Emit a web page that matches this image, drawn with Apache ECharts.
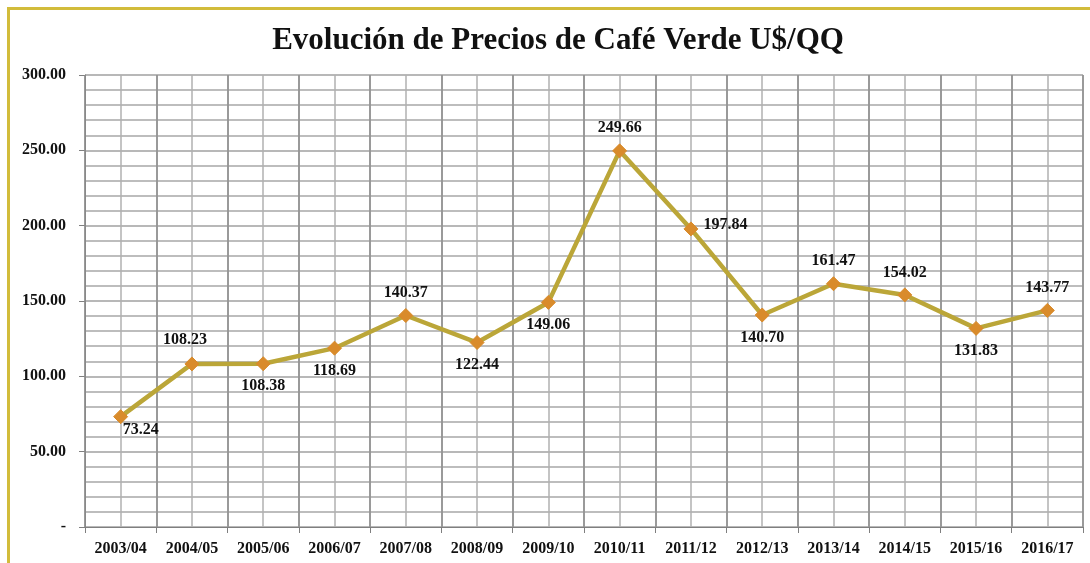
<!DOCTYPE html>
<html>
<head>
<meta charset="utf-8">
<script src="https://cdn.jsdelivr.net/npm/echarts@6/dist/echarts.min.js"></script>
<style>html,body{margin:0;padding:0;background:#fff;}#c{width:1090px;height:563px;}</style>
</head>
<body>
<div id="c"></div>
<script>
var categories = ['2003/04','2004/05','2005/06','2006/07','2007/08','2008/09','2009/10','2010/11','2011/12','2012/13','2013/14','2014/15','2015/16','2016/17'];
var prices = [73.24,108.23,108.38,118.69,140.37,122.44,149.06,249.66,197.84,140.70,161.47,154.02,131.83,143.77];
var yTicks = [0,50,100,150,200,250,300];
var labelPlacement = ['br','tl','b','b','t','b','b','t','r','b','t','t','b','t'];

var FONT = '"Liberation Serif", "Times New Roman", serif';
function labelFor(p){
  var base = {show:true, color:'#111', fontFamily:FONT, fontWeight:'bold', fontSize:16,
    formatter:function(o){ return Number(o.value).toFixed(2); }};
  if(p==='br'){ base.position='bottom'; base.offset=[20,-7]; }
  else if(p==='tl'){ base.position='top'; base.offset=[-7,-4]; }
  else if(p==='b'){ base.position='bottom'; base.offset=[0,2]; }
  else if(p==='t'){ base.position='top'; base.offset=[0,-2]; }
  else if(p==='r'){ base.position='right'; base.offset=[0,-4]; }
  return base;
}
var seriesData = prices.map(function(v,i){
  return {value:v, label:labelFor(labelPlacement[i])};
});

var chart = echarts.init(document.getElementById('c'));
chart.setOption({
  animation:false,
  backgroundColor:'#fff',
  title:{
    text:'Evolución de Precios de Café Verde U$/QQ',
    left:553, top:20, textAlign:'center',
    textStyle:{fontFamily:FONT, fontWeight:'bold', fontSize:31, color:'#111'}
  },
  graphic:[{
    type:'rect', z:100, silent:true,
    shape:{x:8.5,y:8.5,width:1200,height:700},
    style:{fill:'none', stroke:'#d2bc3b', lineWidth:3}
  }],
  grid:{left:85, top:75, right:7, bottom:36},
  xAxis:[{
    type:'category', data:categories, boundaryGap:true,
    axisLine:{show:true, lineStyle:{color:'#7f7f7f', width:1}},
    axisTick:{show:true, length:6, lineStyle:{color:'#7f7f7f'}},
    axisLabel:{color:'#111', fontFamily:FONT, fontWeight:'bold', fontSize:16, margin:14},
    splitLine:{show:true, lineStyle:{color:'#8c8c8c', width:1.5}},
    z:3
  },{
    type:'value', min:0, max:categories.length*2, interval:1, position:'top',
    axisLine:{show:false}, axisTick:{show:false}, axisLabel:{show:false},
    splitLine:{show:true, lineStyle:{color:'#b0b0b0', width:1.5}}
  }],
  yAxis:{
    type:'value', min:yTicks[0], max:yTicks[yTicks.length-1], interval:50,
    axisLine:{show:true, lineStyle:{color:'#7f7f7f'}},
    axisTick:{show:true, length:6, lineStyle:{color:'#7f7f7f'}},
    axisLabel:{color:'#111', fontFamily:FONT, fontWeight:'bold', fontSize:16, margin:19,
      formatter:function(v){ return v===0 ? '-' : v.toFixed(2); }},
    splitLine:{show:true, lineStyle:{color:'#a0a0a0', width:1.5}},
    minorTick:{show:false, splitNumber:5},
    minorSplitLine:{show:true, lineStyle:{color:'#a8a8a8', width:1.5}}
  },
  series:[{
    type:'line', xAxisIndex:0, data:seriesData,
    symbol:'diamond', symbolSize:14,
    lineStyle:{color:'#bba638', width:4.5},
    itemStyle:{color:'#d98b2b', borderColor:'#d98b2b'},
    z:5
  }]
});
</script>
</body>
</html>
